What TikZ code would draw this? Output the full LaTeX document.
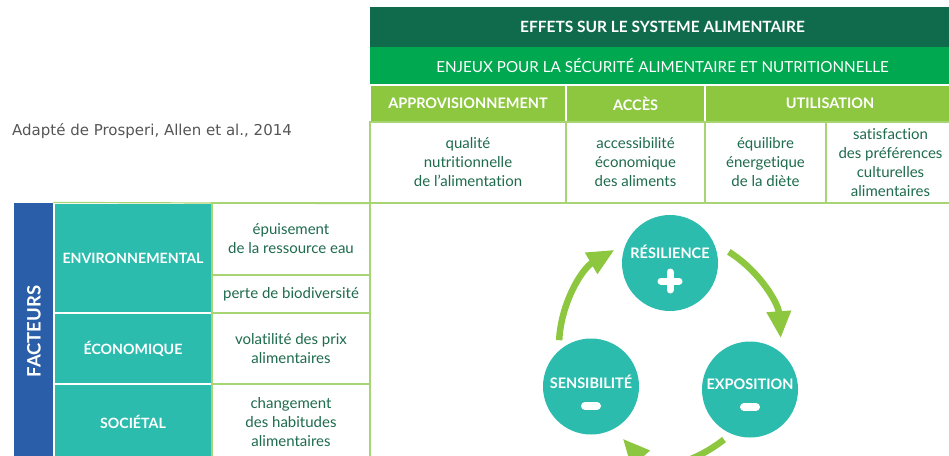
\documentclass[tikz,border=0pt]{standalone}
\usepackage{fontspec}
\setmainfont{Lato}[Ligatures=NoCommon]
\newfontfamily\notefont{DejaVu Sans}
\usetikzlibrary{arrows.meta}

\definecolor{darkband}{HTML}{0F6B4B}
\definecolor{midband}{HTML}{00A850}
\definecolor{leafgreen}{HTML}{8DC63F}
\definecolor{gridgreen}{HTML}{A8D574}
\definecolor{tealfill}{HTML}{2BBCAE}
\definecolor{factorblue}{HTML}{2A5EA8}
\definecolor{inkgreen}{HTML}{1E6B4E}
\definecolor{notegray}{HTML}{555555}

\begin{document}
\begin{tikzpicture}[x=1pt, y=1pt,
	cell/.style={rectangle, inner sep=0pt, align=center, line width=1.2pt},
	bandcell/.style={cell, text=white, font=\fontsize{15.2}{18}\selectfont},
	headcell/.style={cell, fill=leafgreen, draw=white, text=white, font=\fontsize{14.5}{17}\selectfont\bfseries},
	itemcell/.style={cell, fill=white, draw=gridgreen, text=inkgreen, font=\fontsize{15}{19}\selectfont},
	factorcell/.style={cell, fill=tealfill, draw=white, text=white, font=\fontsize{14.2}{17}\selectfont\bfseries},
	phase/.style={circle, fill=tealfill, minimum size=96pt, inner sep=0pt},
	phasetext/.style={text=white, inner sep=0pt, font=\fontsize{14.5}{17}\selectfont\bfseries},
	signbar/.style={draw=white, line width=7pt, line cap=round},
	cyclearrow/.style={draw=leafgreen, line width=6.5pt, -{Triangle[length=27pt, width=23pt]}}]
	\useasboundingbox (0,0) rectangle (949,-455);
	\clip (0,0) rectangle (949,-455);

	\node[anchor=west, text=notegray, inner sep=0pt, font=\notefont\fontsize{15}{18}\selectfont] (source) at (12,-131) {Adapté de Prosperi, Allen et al., 2014};

	\node[bandcell, fill=darkband, minimum width=585pt, minimum height=40pt, font=\fontsize{15.5}{18}\selectfont\bfseries] (effets) at (662.5,-27) {EFFETS SUR LE SYSTEME ALIMENTAIRE};
	\node[bandcell, fill=midband, minimum width=585pt, minimum height=38pt] (enjeux) at (662.5,-66) {ENJEUX POUR LA SÉCURITÉ ALIMENTAIRE ET NUTRITIONNELLE};

	\node[headcell, minimum width=196pt, minimum height=37pt] (appro) at (468,-103.5) {APPROVISIONNEMENT};
	\node[headcell, minimum width=139pt, minimum height=37pt] (acces) at (635.5,-103.5) {ACCÈS};
	\node[headcell, minimum width=250pt, minimum height=37pt] (util) at (830,-103.5) {UTILISATION};

	\node[itemcell, minimum width=196pt, minimum height=81pt] (qualite) at (468,-162.5) {qualité\\nutritionnelle\\de l’alimentation};
	\node[itemcell, minimum width=139pt, minimum height=81pt] (access) at (635.5,-162.5) {accessibilité\\économique\\des aliments};
	\node[itemcell, minimum width=121pt, minimum height=81pt] (equil) at (765.5,-162.5) {équilibre\\énergetique\\de la diète};
	\node[itemcell, minimum width=129pt, minimum height=81pt] (satisf) at (890.5,-162.5) {satisfaction\\des préférences\\culturelles\\alimentaires};

	\node[cell, fill=factorblue, text=white, rotate=90, minimum width=257pt, minimum height=40pt, font=\fontsize{18.5}{21}\selectfont\bfseries] (facteurs) at (34,-331.5) {FACTEURS};
	\node[factorcell, minimum width=158pt, minimum height=110pt] (envir) at (133,-258) {ENVIRONNEMENTAL};
	\node[factorcell, minimum width=158pt, minimum height=71pt] (econ) at (133,-348.5) {ÉCONOMIQUE};
	\node[factorcell, minimum width=158pt, minimum height=76pt] (soc) at (133,-422) {SOCIÉTAL};

	\node[itemcell, minimum width=158pt, minimum height=72pt] (eau) at (291,-239) {épuisement\\de la ressource eau};
	\node[itemcell, minimum width=158pt, minimum height=38pt] (biodiv) at (291,-294) {perte de biodiversité};
	\node[itemcell, minimum width=158pt, minimum height=71pt] (prix) at (291,-348.5) {volatilité des prix\\alimentaires};
	\node[itemcell, minimum width=158pt, minimum height=76pt] (habit) at (291,-422) {changement\\des habitudes\\alimentaires};
	\draw[gridgreen, line width=1.2pt] (envir.north west) -- (qualite.south west);

	\node[phase] (res) at (670,-263) {};
	\node[phase] (sens) at (591,-386.5) {};
	\node[phase] (expo) at (750,-389.5) {};
	\node[phasetext] (res-t) at ([yshift=11pt]res.center) {RÉSILIENCE};
	\node[phasetext] (sens-t) at ([yshift=4.5pt]sens.center) {SENSIBILITÉ};
	\node[phasetext] (expo-t) at ([yshift=5.5pt]expo.center) {EXPOSITION};
	\draw[signbar] ([shift={(-9,-18)}]res.center) -- ([shift={(9,-18)}]res.center);
	\draw[signbar] ([shift={(0,-27)}]res.center) -- ([shift={(0,-9)}]res.center);
	\draw[signbar, line width=8pt] ([shift={(-6,-19.5)}]sens.center) -- ([shift={(6,-19.5)}]sens.center);
	\draw[signbar, line width=8pt] ([shift={(-6,-17.5)}]expo.center) -- ([shift={(6,-17.5)}]expo.center);

	\coordinate (hub) at (670,-346);
	\draw[cyclearrow] ([shift={(177:111)}]hub) arc[start angle=177, end angle=120, radius=111];
	\draw[cyclearrow] ([shift={(58:111)}]hub) arc[start angle=58, end angle=4, radius=111];
	\draw[cyclearrow] ([shift={(-60:108)}]hub) .. controls +(-28,-22) and +(33,-37) .. ([shift={(-117:104)}]hub);
\end{tikzpicture}
\end{document}
